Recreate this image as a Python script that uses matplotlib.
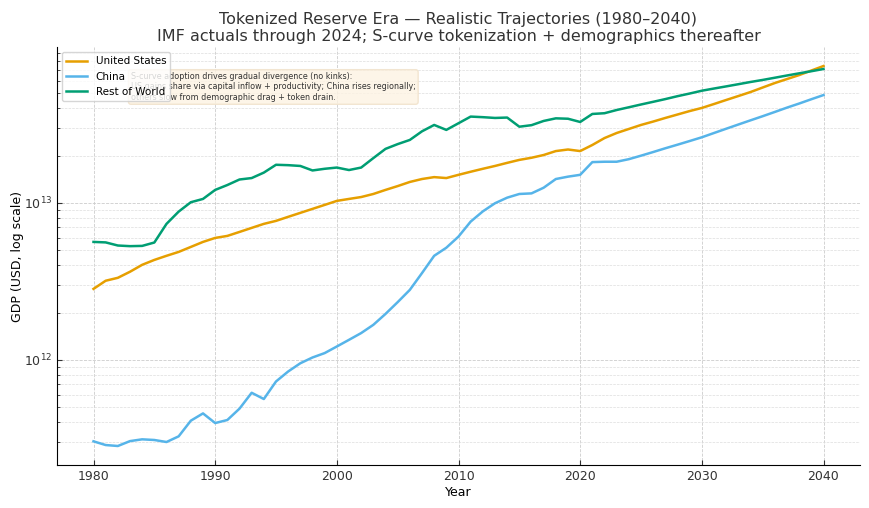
import matplotlib
matplotlib.use("Agg")
import matplotlib.pyplot as plt
import numpy as np

years = list(range(1980, 2041))

# GDP in trillions of USD
us_tn = [2.83, 3.19, 3.33, 3.64, 4.03, 4.33, 4.60, 4.87, 5.24, 5.64,
         5.98, 6.16, 6.53, 6.93, 7.35, 7.68, 8.15, 8.64, 9.16, 9.71,
         10.3, 10.6, 10.9, 11.4, 12.1, 12.8, 13.6, 14.2, 14.6, 14.4,
         15.1, 15.8, 16.5, 17.2, 18.0, 18.8, 19.4, 20.2, 21.4, 21.9,
         21.4, 23.4, 25.9, 27.9, 29.6, 31.4, 33.0, 34.8, 36.6, 38.5,
         40.3, 42.7, 45.3, 48.0, 50.9, 54.4, 58.1, 61.6, 65.3, 69.8,
         74.6]
china_tn = [0.302, 0.286, 0.282, 0.303, 0.311, 0.308, 0.299, 0.325, 0.409, 0.455,
            0.395, 0.413, 0.488, 0.616, 0.562, 0.727, 0.842, 0.950, 1.034, 1.103,
            1.215, 1.34, 1.48, 1.67, 1.96, 2.33, 2.79, 3.57, 4.60, 5.18,
            6.10, 7.60, 8.83, 9.95, 10.8, 11.4, 11.5, 12.5, 14.2, 14.7,
            15.1, 18.2, 18.3, 18.3, 19.0, 20.0, 21.1, 22.3, 23.5, 24.8,
            26.2, 27.9, 29.7, 31.6, 33.6, 35.7, 38.0, 40.5, 43.0, 45.8,
            48.7]
row_tn = [5.64, 5.60, 5.35, 5.30, 5.32, 5.59, 7.35, 8.80, 10.1, 10.6,
          12.1, 13.0, 14.1, 14.4, 15.6, 17.5, 17.4, 17.2, 16.1, 16.5,
          16.8, 16.2, 16.8, 19.3, 22.1, 23.7, 25.2, 28.6, 31.4, 29.2,
          32.2, 35.5, 35.2, 34.8, 35.0, 30.6, 31.3, 33.3, 34.6, 34.4,
          32.8, 36.9, 37.3, 39.1, 40.7, 42.4, 44.1, 45.9, 47.9, 49.8,
          51.9, 53.6, 55.3, 57.1, 59.0, 60.8, 62.8, 64.9, 67.0, 69.1,
          71.4]

series_names = ["United States", "China", "Rest of World"]
colors = ["#E69F00", "#56B4E9", "#009E73"]

fig = plt.figure(figsize=(8.7, 5.08), dpi=100)
ax = fig.add_axes([57/870, 1 - 465/508, (860-57)/870, (465-47)/508])

for name, vals, c in zip(series_names, [us_tn, china_tn, row_tn], colors):
    ax.plot(years, np.array(vals) * 1e12, color=c, lw=1.8, label=name)

ax.set_yscale("log")
ax.set_xticks([1980, 1990, 2000, 2010, 2020, 2030, 2040])
ax.grid(True, which="major", ls="--", lw=0.6, color="#cccccc")
ax.grid(True, which="minor", axis="y", ls="--", lw=0.5, color="#dddddd")
for s in ["top", "right"]:
    ax.spines[s].set_visible(False)
ax.tick_params(which="both", direction="in", labelsize=9, colors="#333333")
ax.set_xlabel("Year", fontsize=9, labelpad=2)
ax.set_ylabel("GDP (USD, log scale)", fontsize=9, labelpad=0)
ax.set_title("Tokenized Reserve Era — Realistic Trajectories (1980–2040)\n"
             "IMF actuals through 2024; S-curve tokenization + demographics thereafter",
             fontsize=11.5, color="#333333", pad=4)

ax.text(0.092, 0.94,
        "S-curve adoption drives gradual divergence (no kinks):\n"
        "US gains share via capital inflow + productivity; China rises regionally;\n"
        "others slow from demographic drag + token drain.",
        transform=ax.transAxes, va="top", ha="left", fontsize=5.8, color="#333333",
        bbox=dict(boxstyle="round,pad=0.3", fc="#fdf3e3", ec="#f0e0c8", alpha=0.8))

ax.legend(loc="upper left", fontsize=7.5, framealpha=0.8)

fig.savefig("out.png", dpi=100)
